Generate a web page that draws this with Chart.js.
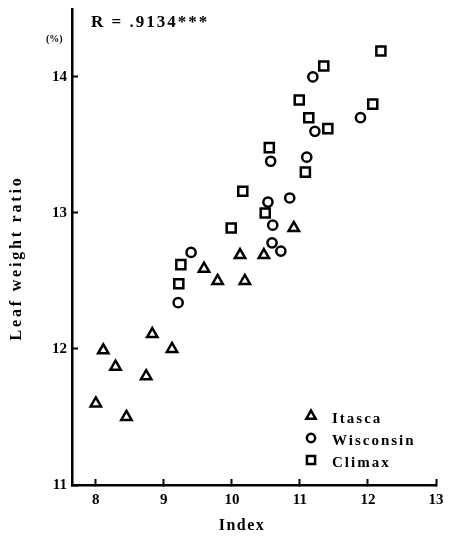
<!DOCTYPE html>
<html>
<head>
<meta charset="utf-8">
<script src="https://cdn.jsdelivr.net/npm/chart.js@4.4.1/dist/chart.umd.min.js"></script>
<style>
body { margin: 0; background: #fff; }
#wrap { width: 452px; height: 536px; }
</style>
</head>
<body>
<div id="wrap"><canvas id="scatterChart"></canvas></div>
<script>
// values
var itascaX = [8.00, 8.11, 8.29, 8.45, 8.74, 8.83, 9.12, 9.59, 9.79, 10.19, 10.12, 10.47, 10.91];
var itascaY = [11.60, 11.99, 11.87, 11.50, 11.80, 12.11, 12.00, 12.59, 12.50, 12.50, 12.69, 12.69, 12.89];

var wisconsinX = [9.21, 9.40, 10.53, 10.85, 10.60, 10.59, 10.72, 11.19, 11.89, 11.22, 10.57, 11.10];
var wisconsinY = [12.34, 12.71, 13.08, 13.11, 12.91, 12.78, 12.72, 14.00, 13.70, 13.60, 13.38, 13.41];

var climaxX = [10.16, 10.49, 9.99, 9.25, 9.22, 12.19, 11.35, 10.99, 11.13, 11.41, 12.07, 10.55, 11.08];
var climaxY = [13.16, 13.00, 12.89, 12.62, 12.48, 14.19, 14.08, 13.83, 13.70, 13.62, 13.80, 13.48, 13.30];

var xTicks = [8, 9, 10, 11, 12, 13];
var yTicks = [11, 12, 13, 14];

var seriesNames = ['Itasca', 'Wisconsin', 'Climax'];

function toPoints(xs, ys) {
    var pts = [];
    for (var i = 0; i < xs.length; i++) pts.push({x: xs[i], y: ys[i]});
    return pts;
}

var serif = '"Liberation Serif", "DejaVu Serif", serif';
var markers = [
    {style: 'triangle', radius: 6},
    {style: 'circle', radius: 4.6},
    {style: 'rect', radius: 6.4}
];

// legend, axis titles and the R value, drawn as text on top
var annotations = {
    id: 'annotations',
    afterDraw: function(chart) {
        var c = chart.ctx;
        c.save();
        c.fillStyle = '#000';
        c.strokeStyle = '#000';

        c.font = 'bold 17px ' + serif;
        c.textAlign = 'left';
        c.textBaseline = 'alphabetic';
        c.letterSpacing = '2px';
        c.fillText('R = .9134***', 91, 27);

        c.font = 'bold 10px ' + serif;
        c.letterSpacing = '0px';
        c.fillText('(%)', 46, 42);

        // legend
        c.font = 'bold 15px ' + serif;
        c.letterSpacing = '2px';
        c.textBaseline = 'middle';
        var ly = [416, 438, 460];
        for (var i = 0; i < seriesNames.length; i++) {
            c.lineWidth = 2.5;
            c.fillStyle = '#fff';
            Chart.helpers.drawPoint(c, {pointStyle: markers[i].style, radius: markers[i].radius * 0.9, borderWidth: 2.5}, 311, ly[i]);
            c.fillStyle = '#000';
            c.fillText(seriesNames[i], 332, ly[i] + 3);
        }

        // axis titles
        c.textAlign = 'center';
        c.font = 'bold 16px ' + serif;
        c.letterSpacing = '1.5px';
        c.fillText('Index', 242, 526);

        c.translate(17, 258);
        c.rotate(-Math.PI / 2);
        c.letterSpacing = '2.8px';
        c.fillText('Leaf weight ratio', 0, 0);
        c.restore();
    }
};

var ctx = document.getElementById('scatterChart').getContext('2d');
var scatterChart = new Chart(ctx, {
    type: 'scatter',
    data: {
        datasets: [{
            label: seriesNames[0],
            data: toPoints(itascaX, itascaY),
            pointStyle: markers[0].style,
            pointRadius: markers[0].radius,
            backgroundColor: '#fff',
            borderColor: '#000',
            borderWidth: 2.5
        }, {
            label: seriesNames[1],
            data: toPoints(wisconsinX, wisconsinY),
            pointStyle: markers[1].style,
            pointRadius: markers[1].radius,
            backgroundColor: '#fff',
            borderColor: '#000',
            borderWidth: 2.5
        }, {
            label: seriesNames[2],
            data: toPoints(climaxX, climaxY),
            pointStyle: markers[2].style,
            pointRadius: markers[2].radius,
            backgroundColor: '#fff',
            borderColor: '#000',
            borderWidth: 2.5
        }]
    },
    options: {
        responsive: true,
        maintainAspectRatio: false,
        animation: false,
        layout: {
            padding: {top: 7, right: 16, left: 0, bottom: 0}
        },
        plugins: {
            legend: {display: false},
            tooltip: {enabled: false}
        },
        scales: {
            x: {
                type: 'linear',
                min: 7.65,
                max: 13,
                afterBuildTicks: function(scale) {
                    scale.ticks = xTicks.map(function(v) { return {value: v}; });
                },
                afterFit: function(scale) {
                    scale.height = 51;
                    scale.paddingLeft = 0;
                    scale.paddingRight = 0;
                },
                grid: {
                    drawOnChartArea: false,
                    drawTicks: true,
                    tickLength: -6,
                    tickWidth: 2,
                    tickColor: '#000'
                },
                border: {color: '#000', width: 2.5},
                ticks: {
                    color: '#000',
                    padding: 12,
                    maxRotation: 0,
                    font: {family: serif, size: 15, weight: 'bold'}
                }
            },
            y: {
                type: 'linear',
                min: 11,
                max: 14.5,
                afterBuildTicks: function(scale) {
                    scale.ticks = yTicks.map(function(v) { return {value: v}; });
                },
                afterFit: function(scale) {
                    scale.width = 72;
                    scale.paddingTop = 0;
                    scale.paddingBottom = 0;
                },
                grid: {
                    drawOnChartArea: false,
                    drawTicks: true,
                    tickLength: -6,
                    tickWidth: 2,
                    tickColor: '#000'
                },
                border: {color: '#000', width: 2.5},
                ticks: {
                    color: '#000',
                    padding: 11,
                    font: {family: serif, size: 15, weight: 'bold'}
                }
            }
        }
    },
    plugins: [annotations]
});
</script>
</body>
</html>
